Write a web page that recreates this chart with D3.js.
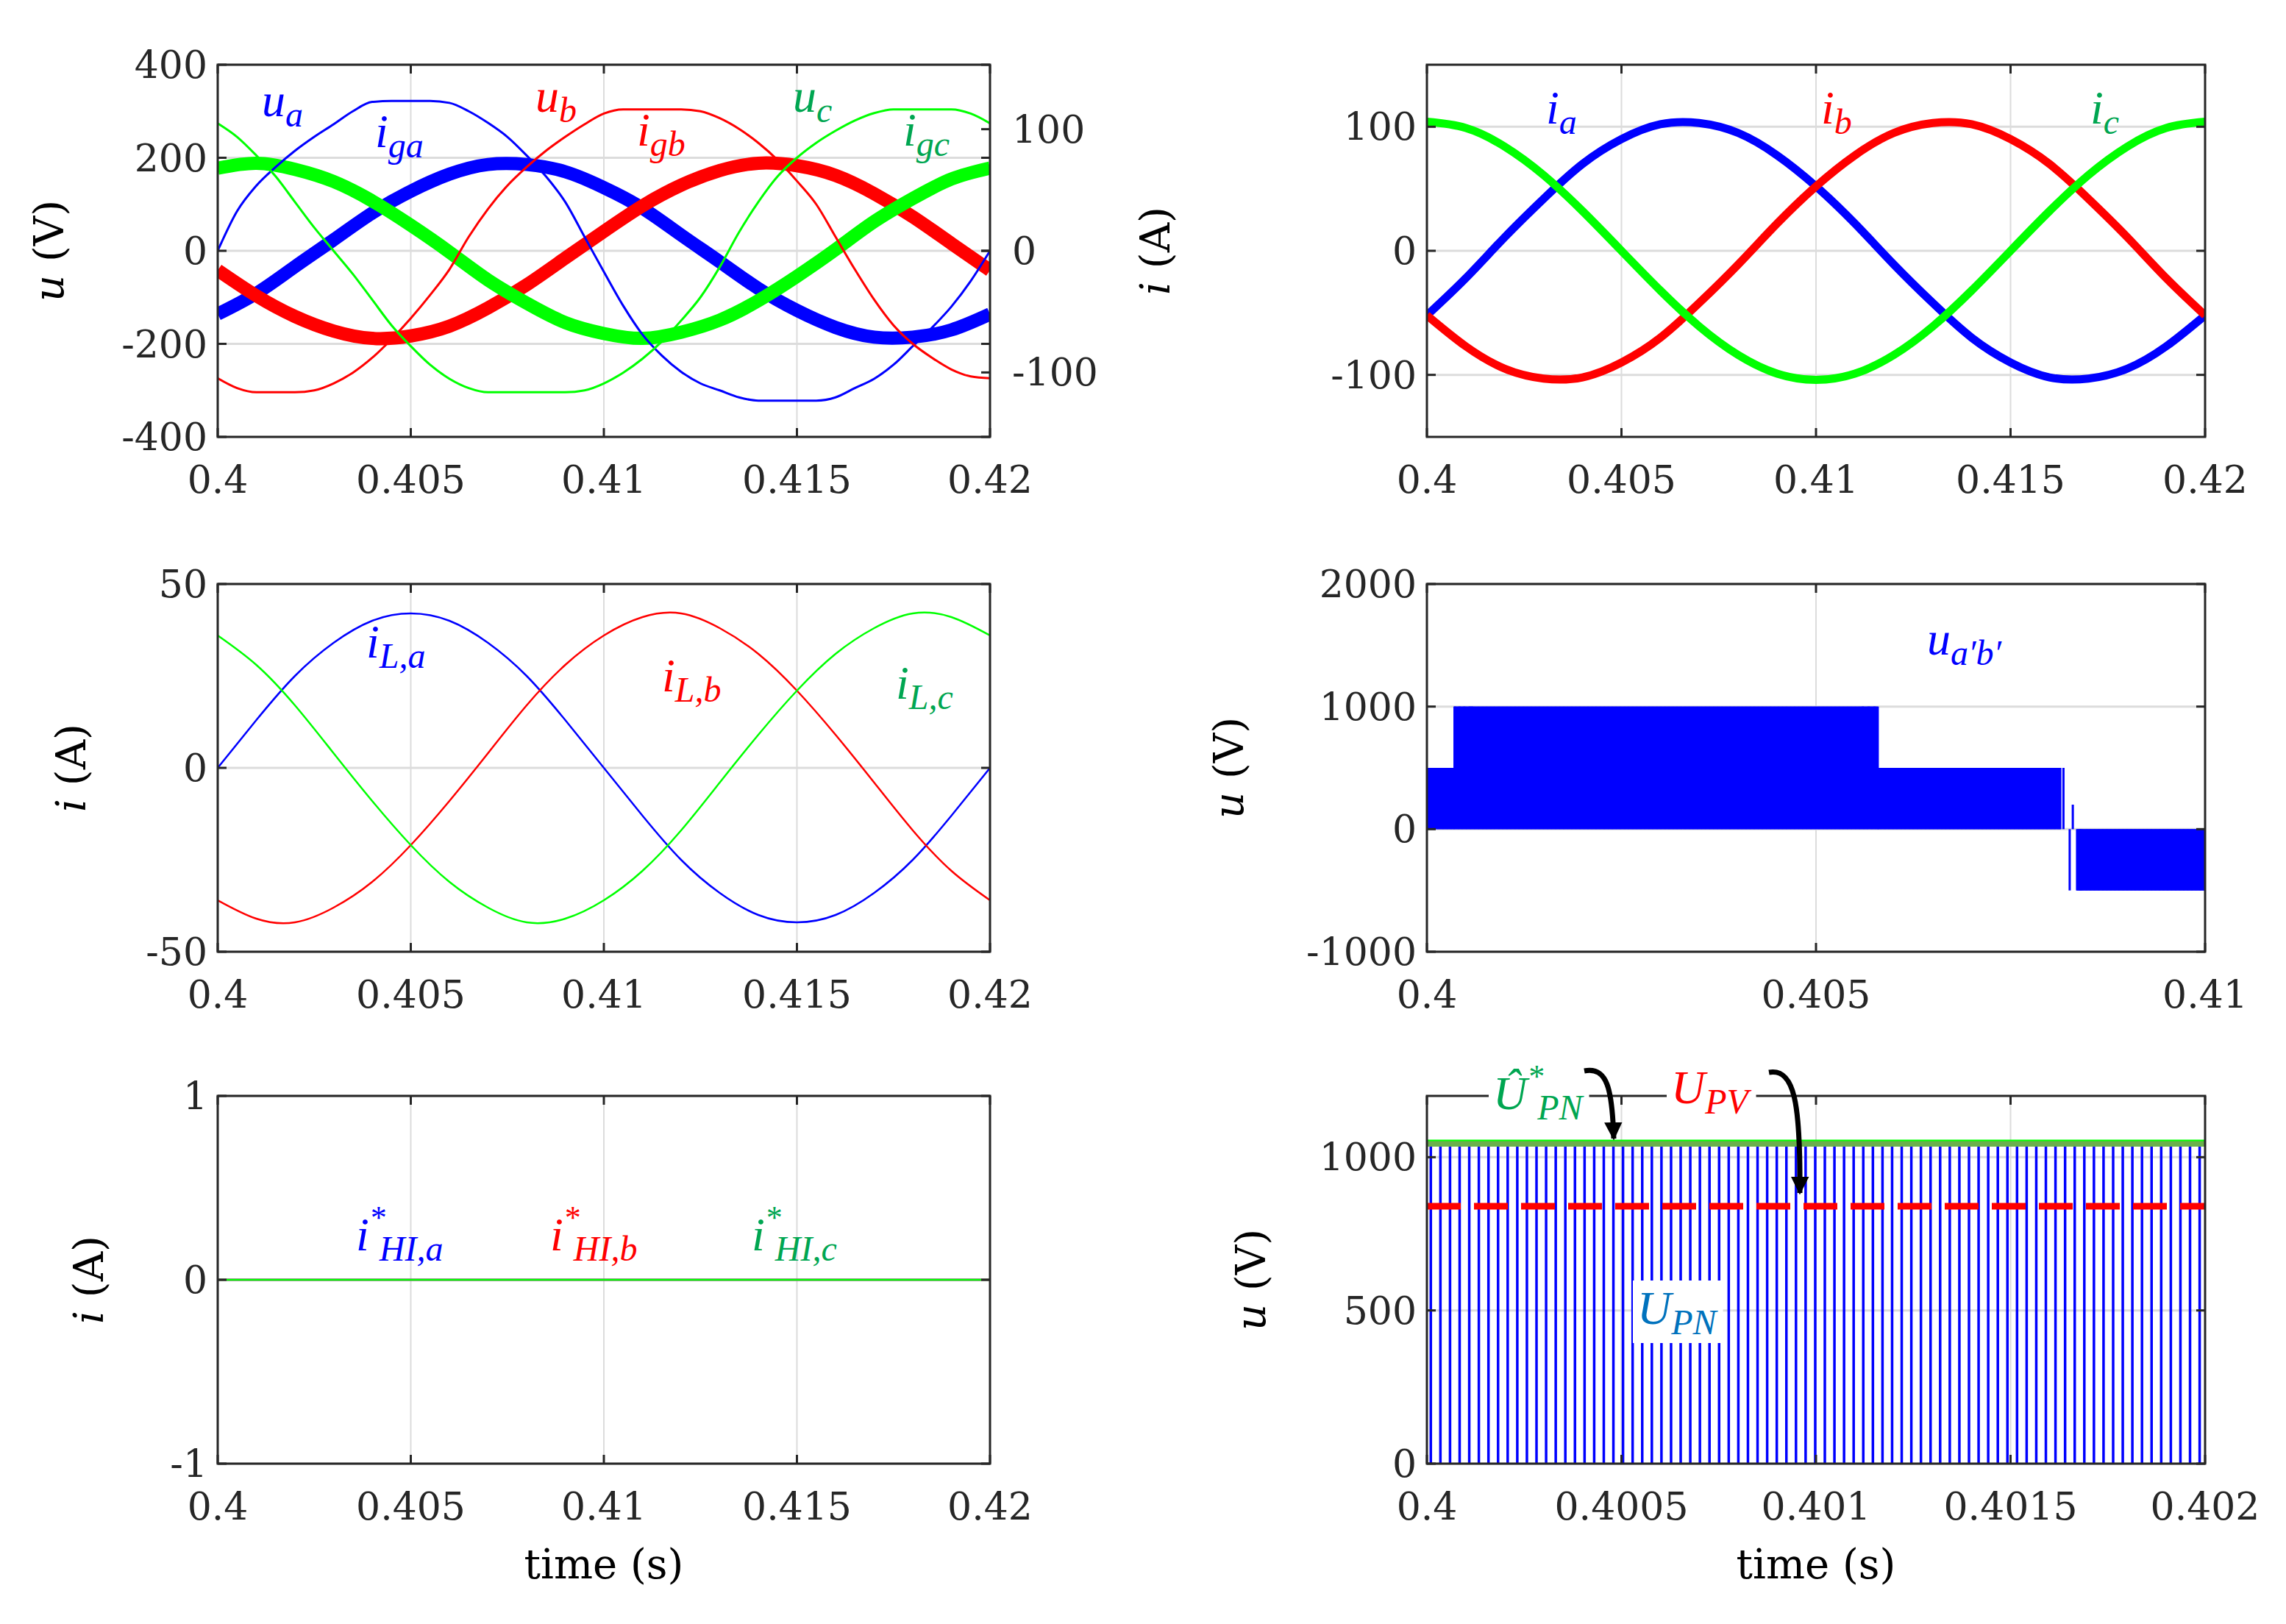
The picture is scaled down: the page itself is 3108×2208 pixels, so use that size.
<!DOCTYPE html>
<html><head><meta charset="utf-8">
<script src="https://cdn.jsdelivr.net/npm/d3@7"></script>
<style>body{margin:0;background:#fff}svg{display:block}</style>
</head><body>
<svg id="c" width="3108" height="2208"></svg>
<script>
// ---------- data ----------
const tFine = d3.range(41).map(i => 0.4 + i * 0.0005);
const tCoarse = d3.range(21).map(i => 0.4 + i * 0.001);
// grid voltages (thin, left axis, V)
const uA = [0,85,140,180,215,245,272,300,320,322,322,322,318,300,275,245,205,160,105,30,-45,-118,-180,-225,-260,-285,-300,-315,-322,-322,-322,-322,-315,-295,-275,-245,-205,-165,-120,-65,0];
const uB = [-274,-295,-304,-304,-304,-300,-285,-262,-230,-190,-145,-95,-40,30,90,140,180,215,245,272,295,304,304,304,304,300,285,262,232,195,150,100,30,-40,-105,-160,-200,-230,-255,-270,-274];
const uC = [274,245,205,160,105,50,0,-50,-105,-160,-205,-245,-275,-295,-304,-304,-304,-304,-304,-300,-285,-262,-232,-195,-150,-100,-35,40,105,160,200,232,258,280,296,304,304,304,304,295,274];
// grid currents (thick, right axis, A)
const igA = [-52,-35,-13,9,31,49,63,71,71,65,52,35,13,-9,-31,-49,-63,-71,-71,-65,-52];
const igB = [-16,-37,-54,-66,-72,-70,-62,-47,-28,-6,16,37,54,66,72,70,62,47,28,6,-16];
const igC = [68,72,67,57,41,21,-1,-24,-43,-59,-68,-72,-67,-57,-41,-21,1,24,43,59,68];
// converter currents
const iA = [-52,-22,11,42,70,90,102,103,95,77,52,22,-11,-42,-70,-90,-102,-103,-95,-77,-52];
const iB = [-52,-77,-95,-103,-102,-90,-70,-42,-11,22,52,77,95,103,102,90,70,42,11,-22,-52];
const iC = [104,99,84,61,32,0,-32,-61,-84,-99,-104,-99,-84,-61,-32,0,32,61,84,99,104];
// load currents
const iLA = [0,13,25,34,40,42,40,34,25,13,0,-13,-25,-34,-40,-42,-40,-34,-25,-13,0];
const iLB = [-36,-41,-42,-38,-31,-21,-9,4,17,28,36,41,42,38,31,21,9,-4,-17,-28,-36];
const iLC = [36,28,17,4,-9,-21,-31,-38,-42,-41,-36,-28,-17,-4,9,21,31,38,42,41,36];
// HI reference currents
const iHIA = [0,0], iHIB = [0,0], iHIC = [0,0];
const tHI = [0.4,0.42];
// line-to-line converter voltage: [start, end, low, high]
const abSegments = [[0.4,0.40035,0,500],[0.40035,0.4058,0,1000],[0.4058,0.40815,0,500],[0.40835,0.41,-500,0]];
const abSpikes = [[0.40036,500,1000],[0.40042,500,1000],[0.40048,500,1000],[0.40055,500,1000],[0.40058,500,1000],[0.4056,500,1000],[0.40568,500,1000],[0.40575,500,1000],[0.40818,0,500],[0.40826,-500,0],[0.4083,0,200],[0.4084,-500,0]];
const abStep = 0.000008;
// DC link
const upnPeriod = 0.0000247, upnHigh = 1040;
const upnRef = 1045, upv = 840;

const xTicks1 = [0.4,0.405,0.41,0.415,0.42], xLab1 = ["0.4","0.405","0.41","0.415","0.42"];
const xTicks2 = [0.4,0.405,0.41], xLab2 = ["0.4","0.405","0.41"];
const xTicks3 = [0.4,0.4005,0.401,0.4015,0.402], xLab3 = ["0.4","0.4005","0.401","0.4015","0.402"];

const BLUE="#0000ff", RED="#ff0000", GREEN="#00ff00", GTXT="#00a651", AX="#262626";
const FONT="'DejaVu Serif', serif", MATH="'Liberation Serif', 'DejaVu Serif', serif";
const svg = d3.select("#c");

function panel(o){
  const x = d3.scaleLinear().domain(o.xd).range([o.x0,o.x1]);
  const y = d3.scaleLinear().domain(o.yd).range([o.y1,o.y0]);
  const g = svg.append("g");
  o.xt.forEach(t=>g.append("line").attr("x1",x(t)).attr("x2",x(t)).attr("y1",o.y0).attr("y2",o.y1).attr("stroke","#dcdcdc").attr("stroke-width",2));
  o.yt.forEach(t=>g.append("line").attr("y1",y(t)).attr("y2",y(t)).attr("x1",o.x0).attr("x2",o.x1).attr("stroke","#dcdcdc").attr("stroke-width",3));
  const plot = svg.append("g");
  const clipId="cl"+Math.random().toString(36).slice(2);
  svg.append("clipPath").attr("id",clipId).append("rect").attr("x",o.x0).attr("y",o.y0).attr("width",o.x1-o.x0).attr("height",o.y1-o.y0);
  plot.attr("clip-path",`url(#${clipId})`);
  const ax = svg.append("g");
  ax.append("rect").attr("x",o.x0).attr("y",o.y0).attr("width",o.x1-o.x0).attr("height",o.y1-o.y0).attr("fill","none").attr("stroke",AX).attr("stroke-width",3);
  o.xt.forEach((t,i)=>{
    ax.append("line").attr("x1",x(t)).attr("x2",x(t)).attr("y1",o.y1).attr("y2",o.y1-12).attr("stroke",AX).attr("stroke-width",3);
    ax.append("line").attr("x1",x(t)).attr("x2",x(t)).attr("y1",o.y0).attr("y2",o.y0+12).attr("stroke",AX).attr("stroke-width",3);
    ax.append("text").attr("x",x(t)).attr("y",o.y1+76).attr("text-anchor","middle").attr("font-family",FONT).attr("font-size",52).attr("fill",AX).text(o.xl[i]);
  });
  o.yt.forEach((t,i)=>{
    ax.append("line").attr("y1",y(t)).attr("y2",y(t)).attr("x1",o.x0).attr("x2",o.x0+12).attr("stroke",AX).attr("stroke-width",3);
    if(!o.noRightTicks) ax.append("line").attr("y1",y(t)).attr("y2",y(t)).attr("x1",o.x1).attr("x2",o.x1-12).attr("stroke",AX).attr("stroke-width",3);
    ax.append("text").attr("x",o.x0-14).attr("y",y(t)+18).attr("text-anchor","end").attr("font-family",FONT).attr("font-size",52).attr("fill",AX).text(o.yl[i]);
  });
  const yl = svg.append("text").attr("transform",`translate(${o.ylx},${(o.y0+o.y1)/2}) rotate(-90)`).attr("text-anchor","middle").attr("font-family",FONT).attr("font-size",56).attr("fill","#000");
  yl.append("tspan").attr("font-style","italic").text(o.ylab[0]);
  yl.append("tspan").text(" "+o.ylab[1]);
  if(o.xlabel){
    svg.append("text").attr("x",(o.x0+o.x1)/2).attr("y",o.y1+156).attr("text-anchor","middle").attr("font-family",FONT).attr("font-size",56).attr("fill","#000").text("time (s)");
  }
  return {x,y,plot,ax};
}
function drawLine(p,xs,ys,col,w,yScale,curve){
  const ysc = yScale||p.y;
  p.plot.append("path").datum(xs.map((t,i)=>[t,ys[i]]))
    .attr("d",d3.line().x(d=>p.x(d[0])).y(d=>ysc(d[1])).curve(curve||d3.curveMonotoneX))
    .attr("fill","none").attr("stroke",col).attr("stroke-width",w).attr("stroke-linejoin","round");
}
function label(x,y,main,sub,col,opts={}){
  const t = svg.append("text").attr("x",x).attr("y",y).attr("font-family",MATH).attr("font-style","italic").attr("font-size",opts.size||64).attr("fill",col);
  t.append("tspan").text(main);
  if(opts.sup) t.append("tspan").attr("font-size",44).attr("dy",-30).text(opts.sup);
  if(sub) t.append("tspan").attr("font-size",48).attr("dy",opts.sup?44:14).attr("dx",opts.sup?-8:0).text(sub);
  if(opts.bg){ const b=t.node().getBBox(); svg.insert("rect",()=>t.node()).attr("x",b.x-6).attr("y",b.y-2).attr("width",b.width+12).attr("height",b.height+4).attr("fill","#fff"); }
  return t;
}

// ---------- Panel 1 ----------
const p1 = panel({x0:296,x1:1346,y0:88,y1:594,xd:[0.4,0.42],yd:[-400,400],xt:xTicks1,xl:xLab1,yt:[-400,-200,0,200,400],yl:["-400","-200","0","200","400"],ylx:86,ylab:["u","(V)"],noRightTicks:true});
const yR = d3.scaleLinear().domain([-153,153]).range([594,88]);
[[100,"100"],[0,"0"],[-100,"-100"]].forEach(([v,s])=>{
  p1.ax.append("line").attr("x1",1346).attr("x2",1334).attr("y1",yR(v)).attr("y2",yR(v)).attr("stroke",AX).attr("stroke-width",3);
  p1.ax.append("text").attr("x",1376).attr("y",yR(v)+18).attr("font-family",FONT).attr("font-size",52).attr("fill",AX).text(s);
});
[-400,-200,0,200,400].forEach(v=>p1.ax.append("line").attr("x1",1346).attr("x2",1334).attr("y1",p1.y(v)).attr("y2",p1.y(v)).attr("stroke",AX).attr("stroke-width",3));
drawLine(p1,tCoarse,igA,BLUE,18,yR,d3.curveNatural);
drawLine(p1,tCoarse,igB,RED,18,yR,d3.curveNatural);
drawLine(p1,tCoarse,igC,GREEN,18,yR,d3.curveNatural);
drawLine(p1,tFine,uA,BLUE,3);
drawLine(p1,tFine,uB,RED,3);
drawLine(p1,tFine,uC,GREEN,3);
label(356,158,"u","a",BLUE);
label(510,200,"i","ga",BLUE);
label(728,152,"u","b",RED);
label(866,198,"i","gb",RED);
label(1078,152,"u","c",GTXT);
label(1228,198,"i","gc",GTXT);

// ---------- Panel 2 ----------
const p2 = panel({x0:1940,x1:2998,y0:88,y1:594,xd:[0.4,0.42],yd:[-150,150],xt:xTicks1,xl:xLab1,yt:[-100,0,100],yl:["-100","0","100"],ylx:1590,ylab:["i","(A)"]});
drawLine(p2,tCoarse,iA,BLUE,11,null,d3.curveNatural);
drawLine(p2,tCoarse,iB,RED,11,null,d3.curveNatural);
drawLine(p2,tCoarse,iC,GREEN,11,null,d3.curveNatural);
label(2102,168,"i","a",BLUE);
label(2476,168,"i","b",RED);
label(2842,168,"i","c",GTXT);

// ---------- Panel 3 ----------
const p3 = panel({x0:296,x1:1346,y0:794,y1:1294,xd:[0.4,0.42],yd:[-50,50],xt:xTicks1,xl:xLab1,yt:[-50,0,50],yl:["-50","0","50"],ylx:116,ylab:["i","(A)"]});
drawLine(p3,tCoarse,iLA,BLUE,2.5,null,d3.curveNatural);
drawLine(p3,tCoarse,iLB,RED,2.5,null,d3.curveNatural);
drawLine(p3,tCoarse,iLC,GREEN,2.5,null,d3.curveNatural);
label(498,894,"i","L,a",BLUE);
label(900,940,"i","L,b",RED);
label(1218,950,"i","L,c",GTXT);

// ---------- Panel 4 ----------
const p4 = panel({x0:1940,x1:2998,y0:794,y1:1294,xd:[0.4,0.41],yd:[-1000,2000],xt:xTicks2,xl:xLab2,yt:[-1000,0,1000,2000],yl:["-1000","0","1000","2000"],ylx:1690,ylab:["u","(V)"]});
abSegments.forEach(([a,b,lo,hi])=>{
  p4.plot.selectAll(null).data(d3.range(a,b,abStep)).enter().append("line")
    .attr("x1",d=>p4.x(d)).attr("x2",d=>p4.x(d)).attr("y1",p4.y(lo)).attr("y2",p4.y(hi)).attr("stroke",BLUE).attr("stroke-width",2);
});
p4.plot.selectAll(null).data(abSpikes).enter().append("line")
  .attr("x1",d=>p4.x(d[0])).attr("x2",d=>p4.x(d[0])).attr("y1",d=>p4.y(d[1])).attr("y2",d=>p4.y(d[2])).attr("stroke",BLUE).attr("stroke-width",3);
label(2620,890,"u","a\u2032b\u2032",BLUE);

// ---------- Panel 5 ----------
const p5 = panel({x0:296,x1:1346,y0:1490,y1:1990,xd:[0.4,0.42],yd:[-1,1],xt:xTicks1,xl:xLab1,yt:[-1,0,1],yl:["-1","0","1"],ylx:140,ylab:["i","(A)"],xlabel:true});
drawLine(p5,tHI,iHIA,BLUE,2.5,null,d3.curveLinear);
drawLine(p5,tHI,iHIB,RED,2.5,null,d3.curveLinear);
drawLine(p5,tHI,iHIC,GREEN,2.5,null,d3.curveLinear);
label(484,1700,"i","HI,a",BLUE,{sup:"*"});
label(748,1700,"i","HI,b",RED,{sup:"*"});
label(1022,1700,"i","HI,c",GTXT,{sup:"*"});

// ---------- Panel 6 ----------
const p6 = panel({x0:1940,x1:2998,y0:1490,y1:1990,xd:[0.4,0.402],yd:[0,1200],xt:xTicks3,xl:xLab3,yt:[0,500,1000],yl:["0","500","1000"],ylx:1720,ylab:["u","(V)"],xlabel:true});
p6.plot.selectAll(null).data(d3.range(0.40001,0.402,upnPeriod)).enter().append("line")
  .attr("x1",d=>p6.x(d)).attr("x2",d=>p6.x(d)).attr("y1",p6.y(0)).attr("y2",p6.y(upnHigh)).attr("stroke",BLUE).attr("stroke-width",3.5);
p6.plot.append("line").attr("x1",p6.x(0.4)).attr("x2",p6.x(0.402)).attr("y1",p6.y(upnHigh)).attr("y2",p6.y(upnHigh)).attr("stroke",BLUE).attr("stroke-width",3);
p6.plot.append("line").attr("x1",p6.x(0.4)).attr("x2",p6.x(0.402)).attr("y1",p6.y(upv)).attr("y2",p6.y(upv)).attr("stroke",RED).attr("stroke-width",9).attr("stroke-dasharray","46,18");
p6.plot.append("line").attr("x1",p6.x(0.4)).attr("x2",p6.x(0.402)).attr("y1",p6.y(upnRef)).attr("y2",p6.y(upnRef)).attr("stroke","#6ab04c").attr("stroke-width",9);
p6.plot.append("line").attr("x1",p6.x(0.4)).attr("x2",p6.x(0.402)).attr("y1",p6.y(upnRef)-4).attr("y2",p6.y(upnRef)-4).attr("stroke",GREEN).attr("stroke-width",2);
label(2226,1800,"U","PN","#0072bd",{bg:true});
label(2030,1508,"\u00DB","PN",GTXT,{sup:"*",bg:true});
label(2272,1500,"U","PV",RED,{bg:true});
const defs = svg.append("defs");
defs.append("marker").attr("id","ah").attr("viewBox","0 0 10 10").attr("refX",9).attr("refY",5).attr("markerWidth",3.5).attr("markerHeight",4.5).attr("orient","auto").attr("markerUnits","strokeWidth")
  .append("path").attr("d","M0,0 L10,5 L0,10 Z").attr("fill","#000");
svg.append("path").attr("d",`M2154,1456 C2185,1450 2192,1480 2194,1548`).attr("fill","none").attr("stroke","#000").attr("stroke-width",7).attr("marker-end","url(#ah)");
svg.append("path").attr("d",`M2405,1458 C2440,1452 2448,1500 2447,1622`).attr("fill","none").attr("stroke","#000").attr("stroke-width",7).attr("marker-end","url(#ah)");
</script>
</body></html>
